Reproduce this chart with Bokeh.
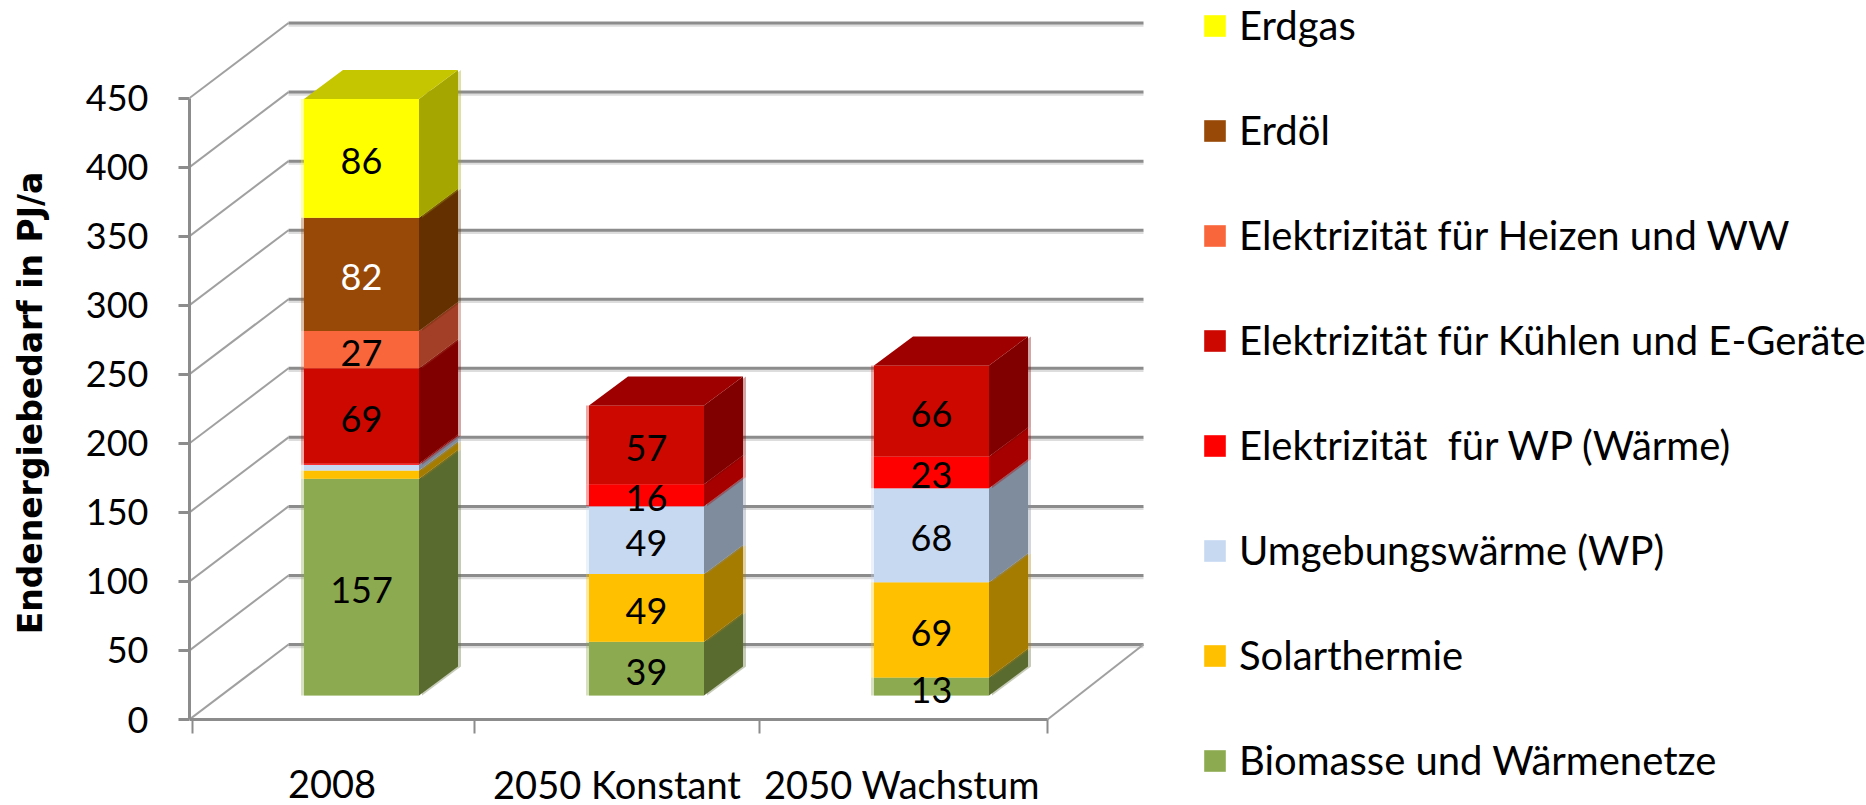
from bokeh.plotting import figure
from bokeh.embed import file_html
from bokeh.resources import INLINE
from bokeh.models import (FixedTicker, Legend, LegendItem, LinearAxis, Range1d)
from bokeh.core.properties import value

categories = ["2008", "2050 Konstant", "2050 Wachstum"]
series_names = ["Biomasse und Wärmenetze", "Solarthermie", "Umgebungswärme (WP)",
                "Elektrizität  für WP (Wärme)", "Elektrizität für Kühlen und E-Geräte",
                "Elektrizität für Heizen und WW", "Erdöl", "Erdgas"]
biomasse = [157, 39, 13]
solar = [6, 49, 69]
umgebung = [4, 49, 68]
el_wp = [1, 16, 23]
el_kuehlen = [69, 57, 66]
el_heizen = [27, 0, 0]
erdoel = [82, 0, 0]
erdgas = [86, 0, 0]
y_ticks = [0, 50, 100, 150, 200, 250, 300, 350, 400, 450]

front_colors = ["#8CAA4F", "#FFC000", "#C6D9F1", "#FF0000", "#CC0800", "#FA663C", "#984807", "#FFFF00"]
side_colors = ["#5A6B30", "#A67C00", "#7F8C9D", "#A60000", "#800000", "#A33E27", "#643000", "#A6A600"]
top_colors = ["#6E8A3C", "#C69500", "#95A3B5", "#C00000", "#9E0000", "#C04C2E", "#7A3905", "#C6C600"]
label_colors = ["black", "black", "black", "black", "black", "black", "white", "black"]
series = [biomasse, solar, umgebung, el_wp, el_kuehlen, el_heizen, erdoel, erdgas]

PX_X, PX_Y = 285.0, 1.381
W, H = 1866, 805
F_L, Y0 = 189, 719
FONT = "Lato"
FS = "36px"

p = figure(width=W, height=H, output_backend="svg", toolbar_location=None,
           x_range=Range1d(-3 / PX_X, (W - 192) / PX_X),
           y_range=Range1d(-(H - Y0) / PX_Y, Y0 / PX_Y),
           x_axis_location="above",
           min_border=0, min_border_left=F_L, min_border_right=0, min_border_top=0,
           min_border_bottom=0, outline_line_color=None, background_fill_color="white")
p.grid.visible = False

# walls
WALL_X, WALL_Y = 96 / PX_X, 75 / PX_Y
for t in y_ticks:
    p.line([0 - 3 / PX_X, WALL_X], [t, t + WALL_Y], line_color="#A0A0A0", line_width=2)
    p.line([WALL_X, 3 + WALL_X], [t + WALL_Y - 1.6] * 2, line_color="#DDDDDD", line_width=3)
    p.line([WALL_X, 3 + WALL_X], [t + WALL_Y] * 2, line_color="#8C8C8C", line_width=3)
p.line([3, 3 + WALL_X], [0, WALL_Y], line_color="#A0A0A0", line_width=2)

# bars
SHIFT_X, HALF_W = 26.5 / PX_X, 57.5 / PX_X
DEP_X, DEP_Y = 39 / PX_X, 29 / PX_Y
BASE = 24 / PX_Y
HALO = 3 / PX_X

renderers = []
label_x, label_y, label_t, label_c = [], [], [], []
tops = [BASE] * len(categories)
top_color = [None] * len(categories)
for k, vals in enumerate(series):
    L, R, B, T = [], [], [], []
    xs, ys = [], []
    for i, v in enumerate(vals):
        if v == 0:
            continue
        c = i + 0.5 + SHIFT_X
        l, r = c - HALF_W, c + HALF_W
        b, t = tops[i], tops[i] + v
        L.append(l); R.append(r); B.append(b); T.append(t)
        xs.append([r, r + DEP_X, r + DEP_X, r])
        ys.append([b, b + DEP_Y, t + DEP_Y, t])
        tops[i] = t
        top_color[i] = k
        if v >= 10:
            label_x.append(c); label_y.append((b + t) / 2); label_t.append(str(v)); label_c.append(label_colors[k])
    p.patches([[a + HALO for a in x] for x in xs], ys, fill_color=side_colors[k], fill_alpha=0.35, line_color=None)
    p.patches(xs, ys, fill_color=side_colors[k], line_color=None)
    p.quad(left=[a - HALO for a in L], right=R, bottom=B, top=T,
           fill_color=front_colors[k], fill_alpha=0.35, line_color=None)
    renderers.append(p.quad(left=L, right=R, bottom=B, top=T, fill_color=front_colors[k], line_color=None))

for i, k in enumerate(top_color):
    c = i + 0.5 + SHIFT_X
    l, r, t = c - HALF_W, c + HALF_W, tops[i]
    p.patch([l, r, r + DEP_X, l + DEP_X], [t, t, t + DEP_Y, t + DEP_Y], fill_color=top_colors[k], line_color=None)

p.text(x=label_x, y=label_y, text=label_t, text_color=label_c, text_font=value(FONT), text_font_size=value(FS),
       text_align="center", text_baseline="middle", y_offset=3)

# category labels, under the floor
p.text(x=[0.5, 1.5, 2.5], y=[0, 0, 0], text=categories, text_color="black", text_font=value(FONT),
       text_font_size=value("38px"), text_align="center", text_baseline="middle", y_offset=64, x_offset=-3)

# axes
y = p.yaxis[0]
y.ticker = FixedTicker(ticks=y_ticks)
y.bounds = (0, 450)
y.major_tick_out = 11
y.major_tick_in = 0
y.minor_tick_out = 0
y.minor_tick_in = 0
y.major_label_standoff = 30
y.axis_line_color = "#8C8C8C"; y.axis_line_width = 3
y.major_tick_line_color = "#8C8C8C"; y.major_tick_line_width = 3
y.major_label_text_font = FONT; y.major_label_text_font_size = FS
y.major_label_text_color = "black"

title_axis = LinearAxis(ticker=FixedTicker(ticks=[]), bounds=(36, 436), axis_line_color=None,
                        major_tick_line_color=None, minor_tick_line_color=None,
                        major_tick_out=0, major_tick_in=0, minor_tick_out=0, minor_tick_in=0,
                        major_label_standoff=0, major_label_text_font_size="1px",
                        axis_label="Endenergiebedarf in PJ/a", axis_label_standoff=33,
                        axis_label_text_font="DejaVu Sans", axis_label_text_font_style="bold",
                        axis_label_text_font_size="33px", axis_label_text_color="black")
p.add_layout(title_axis, "left")

x = p.xaxis[0]
x.ticker = FixedTicker(ticks=[], minor_ticks=[0, 0.988, 1.99, 3])
x.fixed_location = 0
x.bounds = (-3 / PX_X, 3)
x.major_tick_out = 0; x.major_tick_in = 0
x.minor_tick_out = 0; x.minor_tick_in = 14
x.major_label_standoff = 0
x.major_label_text_font_size = "1px"
x.axis_line_color = "#8C8C8C"; x.axis_line_width = 3
x.minor_tick_line_color = "#8C8C8C"; x.minor_tick_line_width = 2

items = [LegendItem(label=n, renderers=[r]) for n, r in zip(series_names, renderers)][::-1]
legend = Legend(items=items, location=(1012, 21), orientation="vertical",
                glyph_width=27, glyph_height=27, label_height=20, label_width=100,
                label_standoff=11, spacing=57, padding=0, margin=0,
                border_line_color=None, background_fill_alpha=0,
                label_text_font=FONT, label_text_font_size="40px", label_text_color="black")
p.add_layout(legend)

open("out.html", "w").write(file_html(p, INLINE))
